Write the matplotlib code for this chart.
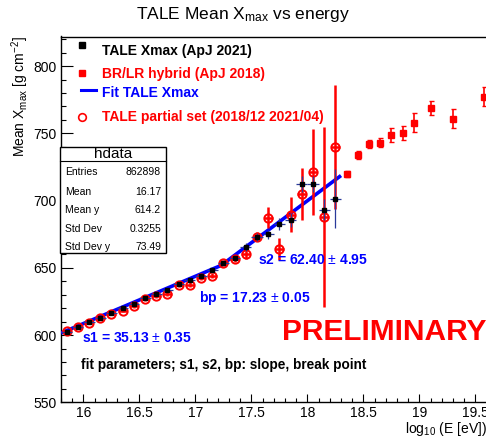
import matplotlib
matplotlib.use('Agg')
import matplotlib.pyplot as plt
from matplotlib.lines import Line2D
from matplotlib.patches import Rectangle
from matplotlib.ticker import MultipleLocator

plt.rcParams['font.family'] = ['Liberation Sans', 'DejaVu Sans']
plt.rcParams['mathtext.fontset'] = 'custom'
plt.rcParams['mathtext.rm'] = 'Liberation Sans'
plt.rcParams['mathtext.it'] = 'Liberation Sans:italic'
plt.rcParams['mathtext.bf'] = 'Liberation Sans:bold'

# ---------------- data ----------------
tale_x = [15.85, 15.95, 16.05, 16.15, 16.25, 16.35, 16.45, 16.55, 16.65, 16.75,
          16.85, 16.95, 17.05, 17.15, 17.25, 17.35, 17.45, 17.55, 17.65, 17.75,
          17.85, 17.95, 18.05, 18.15, 18.25]
tale_y = [602.0, 605.7, 609.4, 613.0, 616.6, 620.2, 623.2, 627.2, 630.6, 633.8,
          638.2, 640.9, 643.9, 648.5, 653.5, 657.2, 665.5, 673.1, 674.8, 682.4,
          685.4, 712.5, 712.5, 693.2, 701.3]
tale_yerr = [0.3, 0.3, 0.3, 0.3, 0.3, 0.3, 0.3, 0.4, 0.4, 0.5,
             0.5, 0.6, 0.7, 0.8, 1.0, 1.2, 3.0, 3.0, 3.5, 4.3,
             5.0, 6.0, 6.0, 8.0, 22.0]
tale_xerr = 0.05

partial_x = tale_x
partial_y = [602.7, 605.7, 609.3, 612.9, 615.8, 618.0, 621.3, 626.6, 629.2, 630.4,
             637.5, 637.5, 642.6, 644.2, 653.6, 656.8, 660.5, 673.2, 687.3, 663.8,
             689.5, 704.8, 721.2, 687.7, 740.0]
partial_yerr = [1.0, 1.0, 1.0, 1.0, 1.0, 1.2, 1.2, 1.3, 1.4, 1.5,
                1.6, 1.8, 2.0, 2.0, 2.0, 2.5, 3.7, 3.5, 8.0, 8.0,
                12.8, 19.4, 32.0, 67.0, 46.0]
partial_xerr = 0.04

hybrid_x = [18.35, 18.45, 18.55, 18.65, 18.75, 18.85, 18.95, 19.1, 19.3, 19.58]
hybrid_y = [719.7, 733.8, 742.3, 743.0, 748.9, 750.4, 757.9, 769.0, 760.8, 777.2]
hybrid_yerr = [2.5, 3.0, 3.0, 3.3, 5.3, 5.3, 7.0, 5.0, 7.0, 7.2]

fit_x = [15.8, 17.23, 18.3]
fit_y = [601.5, 651.8, 718.6]

stats_labels = ['Entries', 'Mean', 'Mean y', 'Std Dev', 'Std Dev y']
stats_values = ['862898', '16.17', '614.2', '0.3255', '73.49']

x_ticks = [16, 16.5, 17, 17.5, 18, 18.5, 19, 19.5]
y_ticks = [550, 600, 650, 700, 750, 800]

# ---------------- layout ----------------
W, H = 486, 443
fig = plt.figure(figsize=(W / 100, H / 100), dpi=100)


def fx(px):
    return px / W


def fy(py):
    return 1 - py / H


ax = fig.add_axes([fx(61), fy(402.3), fx(486.6) - fx(61), fy(36.5) - fy(402.3)])
ax.set_xlim(15.8, 19.6)
ax.set_ylim(550, 822)

RED = '#ff0000'
BLUE = '#0000ff'
NAVY = '#2a3a9a'

# fit line
ax.plot(fit_x, fit_y, color=BLUE, lw=2.6, zorder=3, solid_capstyle='butt')

# TALE Xmax (black)
ax.errorbar(tale_x, tale_y, yerr=tale_yerr, xerr=tale_xerr, fmt='s', color='black',
            ms=3.3, mec='black', mfc='black', ecolor=NAVY, elinewidth=0.9,
            capsize=0, zorder=5)

# TALE partial set (open red circles)
ax.errorbar(partial_x, partial_y, yerr=partial_yerr, xerr=partial_xerr, fmt='o',
            ms=6, mfc='none', mec=RED, mew=1.4, ecolor=RED, elinewidth=1.8,
            capsize=0, zorder=4)

# BR/LR hybrid
ax.errorbar(hybrid_x, hybrid_y, yerr=hybrid_yerr, fmt='s', color=RED, ms=4.2,
            mec=RED, mfc=RED, ecolor=RED, elinewidth=1.2, capsize=1.8, capthick=1.0,
            zorder=4)

# axes style (ROOT-like)
ax.xaxis.set_major_locator(MultipleLocator(0.5))
ax.xaxis.set_minor_locator(MultipleLocator(0.1))
ax.yaxis.set_major_locator(MultipleLocator(50))
ax.yaxis.set_minor_locator(MultipleLocator(10))
ax.set_xticks(x_ticks)
ax.set_xticklabels(['16', '16.5', '17', '17.5', '18', '18.5', '19', '19.5'])
ax.set_yticks(y_ticks)
ax.set_yticklabels([str(v) for v in y_ticks])
ax.tick_params(axis='x', which='major', direction='in', length=6, width=0.8,
               labelsize=10, pad=3, top=False)
ax.tick_params(axis='x', which='minor', direction='in', length=3, width=0.8, top=False)
ax.tick_params(axis='y', which='major', direction='in', length=8.5, width=0.8,
               labelsize=10, pad=3, right=False)
ax.tick_params(axis='y', which='minor', direction='in', length=3.6, width=0.8, right=False)
for s in ['left', 'bottom', 'top']:
    ax.spines[s].set_linewidth(1.0)
ax.spines['right'].set_visible(False)

# titles / labels
fig.text(fx(243), fy(14), r'TALE Mean X$_{\mathregular{max}}$ vs energy', ha='center',
         va='center', fontsize=12.5)
fig.text(fx(20), fy(36), r'Mean X$_{\mathregular{max}}$ [g cm$^{\mathregular{-2}}$]', rotation=90,
         ha='center', va='top', fontsize=10)
fig.text(fx(487), fy(429), r'log$_{\mathregular{10}}$ (E [eV])', ha='right', va='center',
         fontsize=10)

# legend (manual, ROOT style)
leg = [
    ('s', 'black', 'TALE Xmax (ApJ 2021)', 45, 50.5),
    ('s', RED, 'BR/LR hybrid (ApJ 2018)', 72.7, 74.3),
    ('-', BLUE, 'Fit TALE Xmax', 90, 93.3),
    ('o', RED, 'TALE partial set (2018/12 2021/04)', 117.3, 117.3),
]
for m, c, label, my, ty in leg:
    if m == '-':
        fig.add_artist(Line2D([fx(80.7), fx(95.7)], [fy(my), fy(my)], color=c, lw=2.2,
                              transform=fig.transFigure))
    elif m == 'o':
        fig.add_artist(Line2D([fx(81.7)], [fy(my)], marker='o', ms=5.5, mfc='none',
                              mec=c, mew=1.2, transform=fig.transFigure))
    else:
        fig.add_artist(Line2D([fx(81.7)], [fy(my)], marker='s', ms=4.2, mfc=c,
                              mec=c, transform=fig.transFigure))
    fig.text(fx(101.7), fy(ty), label, color=c, ha='left',
             va='center', fontsize=10, fontweight='bold')

# stats box
box = Rectangle((fx(60), fy(253)), fx(166) - fx(60), fy(146.7) - fy(253),
                transform=fig.transFigure, fc='white', ec='black', lw=1.0, zorder=10)
shadow = Rectangle((fx(61.2), fy(254.2)), fx(166) - fx(60), fy(146.7) - fy(253),
                   transform=fig.transFigure, fc='#888888', ec='none', zorder=9)
fig.add_artist(shadow)
fig.add_artist(box)
fig.add_artist(Line2D([fx(60), fx(166)], [fy(160.7), fy(160.7)], color='black', lw=0.8,
                      transform=fig.transFigure, zorder=11))
fig.text(fx(113), fy(153.5), 'hdata', ha='center', va='center', fontsize=11, zorder=12)
rows_y = [172.3, 191.7, 210.0, 229.0, 247.3]
for lab, val, ry in zip(stats_labels, stats_values, rows_y):
    fig.text(fx(65), fy(ry), lab, ha='left', va='center', fontsize=7.5, zorder=12)
    fig.text(fx(161), fy(ry), val, ha='right', va='center', fontsize=7.5, zorder=12)

# fit annotations
fig.text(fx(82), fy(338), 's1 = 35.13 $\\pm$ 0.35', color=BLUE, fontsize=10,
         fontweight='bold', ha='left', va='center')
fig.text(fx(199), fy(298), 'bp = 17.23 $\\pm$ 0.05', color=BLUE, fontsize=10,
         fontweight='bold', ha='left', va='center')
fig.text(fx(258), fy(260), 's2 = 62.40 $\\pm$ 4.95', color=BLUE, fontsize=10,
         fontweight='bold', ha='left', va='center')
fig.text(fx(282), fy(332.5), 'PRELIMINARY', color=RED, fontsize=21.5,
         fontweight='bold', ha='left', va='center')
fig.text(fx(81), fy(365), 'fit parameters; s1, s2, bp: slope, break point', color='black',
         fontsize=9.8, fontweight='bold', ha='left', va='center')

fig.savefig('out.png', dpi=100)
